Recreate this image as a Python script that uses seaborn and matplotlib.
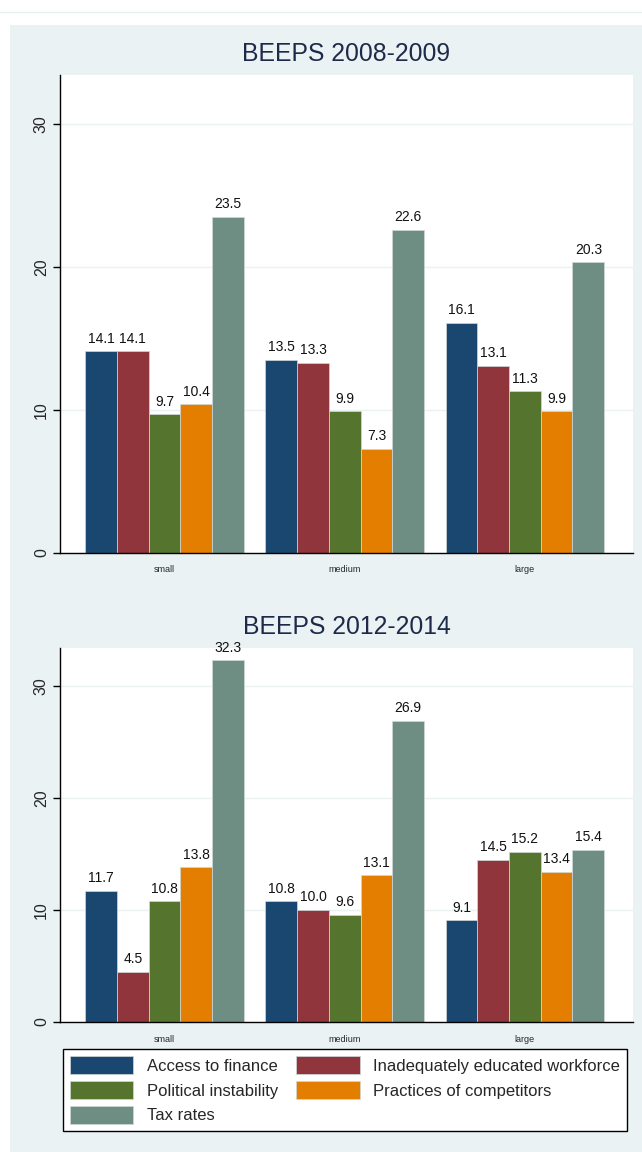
import numpy as np
import pandas as pd
import matplotlib
matplotlib.use("Agg")
import matplotlib.pyplot as plt
import seaborn as sns
from matplotlib.patches import Rectangle
from matplotlib.lines import Line2D

sizes = ["small", "medium", "large"]
obstacles = ["Access to finance", "Inadequately educated workforce",
             "Political instability", "Practices of competitors", "Tax rates"]

# values per obstacle, one per firm size (small, medium, large)
beeps_2008 = {
    "Access to finance": [14.1, 13.5, 16.1],
    "Inadequately educated workforce": [14.1, 13.3, 13.1],
    "Political instability": [9.7, 9.9, 11.3],
    "Practices of competitors": [10.4, 7.3, 9.9],
    "Tax rates": [23.5, 22.6, 20.3],
}
beeps_2012 = {
    "Access to finance": [11.7, 10.8, 9.1],
    "Inadequately educated workforce": [4.5, 10.0, 14.5],
    "Political instability": [10.8, 9.6, 15.2],
    "Practices of competitors": [13.8, 13.1, 13.4],
    "Tax rates": [32.3, 26.9, 15.4],
}

colors = ["#1a476f", "#90353b", "#55752f", "#e37e00", "#6e8e84"]
bg = "#eaf2f3"


def to_long(d):
    rows = []
    for ob in obstacles:
        for s, v in zip(sizes, d[ob]):
            rows.append({"size": s, "obstacle": ob, "value": v})
    return pd.DataFrame(rows)


sns.set_theme(style="white")
plt.rcParams["font.family"] = ["Liberation Sans", "DejaVu Sans"]

fig = plt.figure(figsize=(6.42, 11.52), dpi=100)
fig.patch.set_facecolor("white")
# Stata-like graph region background
fig.patches.append(Rectangle((10 / 642, 0), 1 - 10 / 642, (1152 - 25) / 1152,
                             transform=fig.transFigure, facecolor=bg,
                             edgecolor="none", zorder=-5))
fig.lines.append(Line2D([0, 1], [1 - 12 / 1152] * 2, transform=fig.transFigure,
                        color="#e6eeee", linewidth=1, zorder=-5))

ax1 = fig.add_axes([60 / 642, 1 - 553 / 1152, 573 / 642, 478 / 1152])
ax2 = fig.add_axes([60 / 642, 1 - 1022 / 1152, 573 / 642, 374 / 1152])

for ax, data, title in [(ax1, beeps_2008, "BEEPS 2008-2009"),
                        (ax2, beeps_2012, "BEEPS 2012-2014")]:
    df = to_long(data)
    sns.barplot(data=df, x="size", y="value", hue="obstacle", order=sizes,
                hue_order=obstacles, palette=colors, width=0.88,
                edgecolor="#d0d8d8", linewidth=0.5, saturation=1, ax=ax,
                errorbar=None)
    for cont in ax.containers:
        ax.bar_label(cont, fmt="%.1f", padding=4, fontsize=10, color="#111111")
    ax.set_facecolor("white")
    ax.set_ylim(0, 33.4)
    ax.set_xlim(-0.58, 2.6)
    ax.set_yticks([0, 10, 20, 30])
    ax.yaxis.grid(True, color=bg, linewidth=1)
    ax.set_axisbelow(True)
    for side in ["top", "right"]:
        ax.spines[side].set_visible(False)
    for side in ["left", "bottom"]:
        ax.spines[side].set_color("black")
        ax.spines[side].set_linewidth(1)
    ax.tick_params(axis="y", left=True, length=5, width=1, color="black",
                   labelsize=11.5, labelrotation=90, pad=3)
    ax.tick_params(axis="x", bottom=False, labelsize=6.5, pad=3)
    for lab in ax.get_yticklabels():
        lab.set_va("center")
    ax.set_xlabel("")
    ax.set_ylabel("")
    ax.set_title(title, fontsize=17.8, color="#1e2a4a", pad=10)
    ax.get_legend().remove()

# row-wise legend order like Stata: matplotlib fills by column
order = [0, 2, 4, 1, 3]
handles = [Rectangle((0, 0), 1, 1, facecolor=colors[i], edgecolor="#d0d8d8",
                     linewidth=0.5) for i in order]
labels = [obstacles[i] for i in order]
leg = fig.legend(handles, labels, ncol=2, loc="center",
                 bbox_to_anchor=(345 / 642, 1 - 1090 / 1152),
                 fontsize=12, frameon=True, fancybox=False, framealpha=1,
                 handlelength=3.8, handleheight=1.3, columnspacing=1.1,
                 handletextpad=0.8, borderpad=0.4, labelspacing=0.4)
leg.get_frame().set_edgecolor("black")
leg.get_frame().set_linewidth(1)
leg.get_frame().set_facecolor("white")

fig.savefig("out.png", dpi=100)
